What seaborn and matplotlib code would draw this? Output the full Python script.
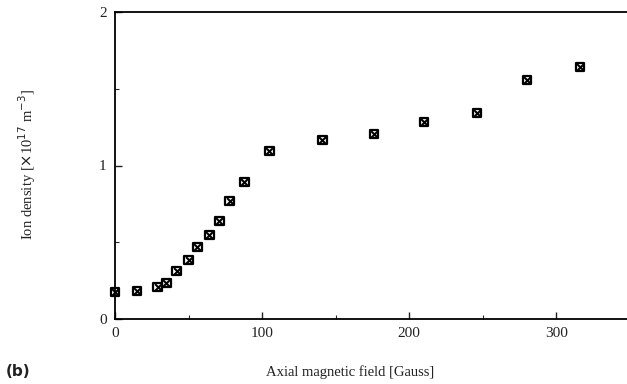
import matplotlib
matplotlib.use("Agg")
import matplotlib.pyplot as plt
import seaborn as sns
import pandas as pd
from matplotlib.ticker import MultipleLocator, FixedLocator

# Data
field_gauss = [0, 15, 29, 35, 42, 50, 56, 64, 71, 78, 88, 105, 141, 176, 210, 246, 280, 316]
ion_density = [0.176, 0.182, 0.208, 0.235, 0.313, 0.384, 0.469, 0.547, 0.638, 0.769, 0.892,
               1.094, 1.166, 1.205, 1.283, 1.342, 1.557, 1.642]
x_ticks = [0, 100, 200, 300]
x_tick_labels = ["0", "100", "200", "300"]
y_ticks = [0, 1, 2]
y_tick_labels = ["0", "1", "2"]

df = pd.DataFrame({"field": field_gauss, "density": ion_density})

sns.set_theme(style="white")
plt.rcParams["font.family"] = ["Liberation Serif", "DejaVu Serif"]

fig = plt.figure(figsize=(6.27, 3.84), dpi=100)
ax = fig.add_axes([115 / 627, 1 - 319 / 384, 1 - 115 / 627, (319 - 12) / 384])

sns.scatterplot(data=df, x="field", y="density", ax=ax, marker="s", s=40,
                facecolor="none", edgecolor="black", linewidth=1.6, zorder=3, clip_on=False)
sns.scatterplot(data=df, x="field", y="density", ax=ax, marker="x", s=24,
                color="black", linewidth=1.5, zorder=4, clip_on=False)

ax.set_xlim(0, 348)
ax.set_ylim(0, 2)
ax.xaxis.set_major_locator(FixedLocator(x_ticks))
ax.set_xticklabels(x_tick_labels)
ax.xaxis.set_minor_locator(MultipleLocator(50))
ax.yaxis.set_major_locator(FixedLocator(y_ticks))
ax.set_yticklabels(y_tick_labels)
ax.yaxis.set_minor_locator(MultipleLocator(0.5))

ax.tick_params(axis="both", which="major", direction="in", length=5, width=1,
               labelsize=11, colors="#222222", pad=6, bottom=True, left=True)
ax.tick_params(axis="both", which="minor", direction="in", length=3, width=0.8,
               bottom=True, left=True)

for side in ["left", "bottom", "top"]:
    ax.spines[side].set_visible(True)
    ax.spines[side].set_color("black")
    ax.spines[side].set_linewidth(1.3)
ax.spines["right"].set_visible(False)

ax.set_xlabel("")
ax.set_ylabel("")

fig.text(350 / 627, 1 - 372 / 384, "Axial magnetic field [Gauss]", ha="center", va="center",
         fontsize=10.5, color="#222222")
fig.text(27 / 627, 1 - 165 / 384, r"Ion density [$\times$10$^{17}$ m$^{-3}$]", rotation=90,
         ha="center", va="center", fontsize=10.5, color="#222222")
fig.text(18 / 627, 1 - 372 / 384, "(b)", ha="center", va="center", fontsize=11,
         fontweight="bold", family=["DejaVu Sans"], color="#222222")

fig.savefig("out.png", dpi=100)
